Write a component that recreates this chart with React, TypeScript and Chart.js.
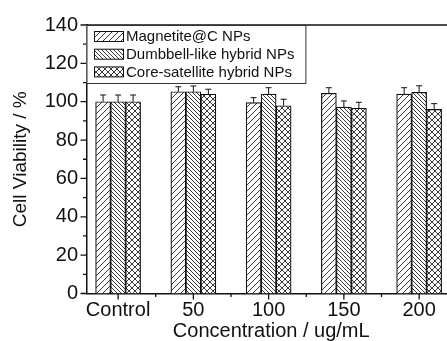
import React, { useEffect, useRef } from 'react';
import { Chart, registerables } from 'chart.js';
Chart.register(...registerables);

const categories = ['Control', '50', '100', '150', '200'];
const seriesNames = ['Magnetite@C NPs', 'Dumbbell-like hybrid NPs', 'Core-satellite hybrid NPs'];
const magnetite = [100, 105.2, 99.5, 104.4, 104.0];
const magnetiteErr = [3.5, 2.6, 2.6, 2.9, 3.3];
const dumbbell = [100, 105.2, 104.0, 97.2, 104.9];
const dumbbellErr = [3.5, 3.0, 3.3, 3.2, 3.4];
const coreSat = [100, 103.9, 97.9, 96.6, 96.0];
const coreSatErr = [3.5, 2.6, 3.4, 3.1, 3.0];
const yTickValues = [0, 10, 20, 30, 40, 50, 60, 70, 80, 90, 100, 110, 120, 130, 140];
const xTickValues = [0, 0.5, 1, 1.5, 2, 2.5, 3, 3.5, 4];

const FONT = "'Liberation Sans', Arial, sans-serif";
const INK = '#111';

function makePattern(kind: string): CanvasPattern | string {
  const size = kind === 'back' ? 4 : 6;
  const c = document.createElement('canvas');
  c.width = size;
  c.height = size;
  const g = c.getContext('2d');
  if (!g) return '#fff';
  g.fillStyle = '#fff';
  g.fillRect(0, 0, size, size);
  g.strokeStyle = '#222';
  g.lineWidth = 0.9;
  const fwd = () => {
    g.beginPath();
    g.moveTo(-1, size + 1); g.lineTo(size + 1, -1);
    g.moveTo(-1, 1); g.lineTo(1, -1);
    g.moveTo(size - 1, size + 1); g.lineTo(size + 1, size - 1);
    g.stroke();
  };
  const back = () => {
    g.beginPath();
    g.moveTo(-1, -1); g.lineTo(size + 1, size + 1);
    g.moveTo(size - 1, -1); g.lineTo(size + 1, 1);
    g.moveTo(-1, size - 1); g.lineTo(1, size + 1);
    g.stroke();
  };
  if (kind === 'fwd') fwd();
  else if (kind === 'back') back();
  else { fwd(); back(); }
  const p = g.createPattern(c, 'repeat');
  return p || '#fff';
}

export default function App() {
  const ref = useRef<HTMLCanvasElement>(null);
  useEffect(() => {
    document.body.style.margin = '0';
    const canvas = ref.current;
    if (!canvas) return;
    const patterns = [makePattern('fwd'), makePattern('back'), makePattern('cross')];
    const values = [magnetite, dumbbell, coreSat];
    const errs = [magnetiteErr, dumbbellErr, coreSatErr];

    const decor = {
      id: 'decor',
      afterDatasetsDraw(chart: any) {
        const ctx = chart.ctx;
        const y = chart.scales.y;
        ctx.save();
        ctx.strokeStyle = INK;
        ctx.lineWidth = 1;
        chart.data.datasets.forEach((ds: any, di: number) => {
          const meta = chart.getDatasetMeta(di);
          meta.data.forEach((el: any, i: number) => {
            const v = values[di][i];
            const top = y.getPixelForValue(v + errs[di][i]);
            ctx.beginPath();
            ctx.moveTo(el.x, el.y);
            ctx.lineTo(el.x, top);
            ctx.moveTo(el.x - 3, top);
            ctx.lineTo(el.x + 3, top);
            ctx.stroke();
          });
        });
        ctx.restore();
      },
      afterDraw(chart: any) {
        const ctx = chart.ctx;
        const area = chart.chartArea;
        const xs = chart.scales.x;
        const ys = chart.scales.y;
        ctx.save();
        ctx.strokeStyle = INK;
        ctx.lineWidth = 1.3;
        // top frame line
        ctx.beginPath();
        ctx.moveTo(area.left, area.top);
        ctx.lineTo(area.right, area.top);
        ctx.stroke();
        // y ticks
        ctx.beginPath();
        ys.ticks.forEach((t: any) => {
          const py = ys.getPixelForValue(t.value);
          const len = t.value % 20 === 0 ? 6 : 3.5;
          ctx.moveTo(area.left - len, py);
          ctx.lineTo(area.left, py);
        });
        xs.ticks.forEach((t: any) => {
          const px = xs.getPixelForValue(t.value);
          const len = Number.isInteger(t.value) ? 6 : 3.5;
          ctx.moveTo(px, area.bottom);
          ctx.lineTo(px, area.bottom + len);
        });
        ctx.stroke();

        // legend
        ctx.font = `15px ${FONT}`;
        const names = chart.data.datasets.map((d: any) => d.label);
        const maxW = Math.max(...names.map((n: string) => ctx.measureText(n).width));
        const bx = area.left;
        const by = area.top;
        const bw = 39.5 + maxW + 11;
        const bh = 58;
        ctx.fillStyle = '#fff';
        ctx.fillRect(bx, by, bw, bh);
        ctx.lineWidth = 1;
        ctx.strokeStyle = '#333';
        ctx.strokeRect(bx + 0.5, by + 0.5, bw, bh);
        names.forEach((n: string, i: number) => {
          const cy = by + 11.5 + i * 17.7;
          ctx.fillStyle = chart.data.datasets[i].backgroundColor;
          ctx.fillRect(bx + 8, cy - 5, 29, 10);
          ctx.strokeStyle = INK;
          ctx.lineWidth = 1;
          ctx.strokeRect(bx + 8, cy - 5, 29, 10);
          ctx.fillStyle = INK;
          ctx.textBaseline = 'middle';
          ctx.textAlign = 'left';
          ctx.fillText(n, bx + 39.5, cy + 0.5);
        });
        ctx.restore();
      },
    };

    const chart = new Chart(canvas, {
      type: 'bar',
      data: {
        datasets: seriesNames.map((name, di) => ({
          label: name,
          data: values[di].map((v, i) => ({ x: i, y: v })),
          backgroundColor: patterns[di] as any,
          borderColor: INK,
          borderWidth: 1.2,
          barThickness: 15,
        })),
      },
      options: {
        animation: false,
        responsive: false,
        devicePixelRatio: 1,
        layout: { padding: { top: 25, left: 0, right: 0, bottom: 0 } },
        plugins: { legend: { display: false }, tooltip: { enabled: false } },
        scales: {
          x: {
            type: 'linear',
            offset: false,
            min: -0.42,
            max: 4.49,
            afterFit: (s: any) => { s.height = 47.5; },
            afterBuildTicks: (s: any) => { s.ticks = xTickValues.map((v) => ({ value: v })); },
            grid: { display: false, drawTicks: false, offset: false },
            border: { display: true, color: INK, width: 1.5 },
            ticks: {
              autoSkip: false,
              maxRotation: 0,
              padding: 5,
              color: INK,
              font: { family: FONT, size: 20 },
              callback: (v: any) => (Number.isInteger(v) ? categories[v] : ''),
            },
            title: {
              display: true,
              text: 'Concentration / ug/mL',
              color: INK,
              font: { family: FONT, size: 20, lineHeight: 1.0 },
              padding: { top: 0, bottom: 0 },
            },
          },
          y: {
            min: 0,
            max: 140,
            afterFit: (s: any) => { s.width = 86.5; },
            afterBuildTicks: (s: any) => { s.ticks = yTickValues.map((v) => ({ value: v })); },
            grid: { display: false, drawTicks: false },
            border: { display: true, color: INK, width: 1.5 },
            ticks: {
              autoSkip: false,
              padding: 8.5,
              color: INK,
              font: { family: FONT, size: 20 },
              callback: (v: any) => (v % 20 === 0 ? String(v) : ''),
            },
            title: {
              display: true,
              text: 'Cell Viability / %',
              color: INK,
              font: { family: FONT, size: 19, lineHeight: 1.2 },
              padding: { top: 9, bottom: 0 },
            },
          },
        },
      },
      plugins: [decor],
    });
    return () => chart.destroy();
  }, []);

  return (
    <div style={{ position: 'fixed', left: 0, top: 0, width: 447, height: 341, overflow: 'hidden', background: '#fff' }}>
      <canvas ref={ref} width={456} height={341} style={{ width: 456, height: 341, display: 'block' }} />
    </div>
  );
}
